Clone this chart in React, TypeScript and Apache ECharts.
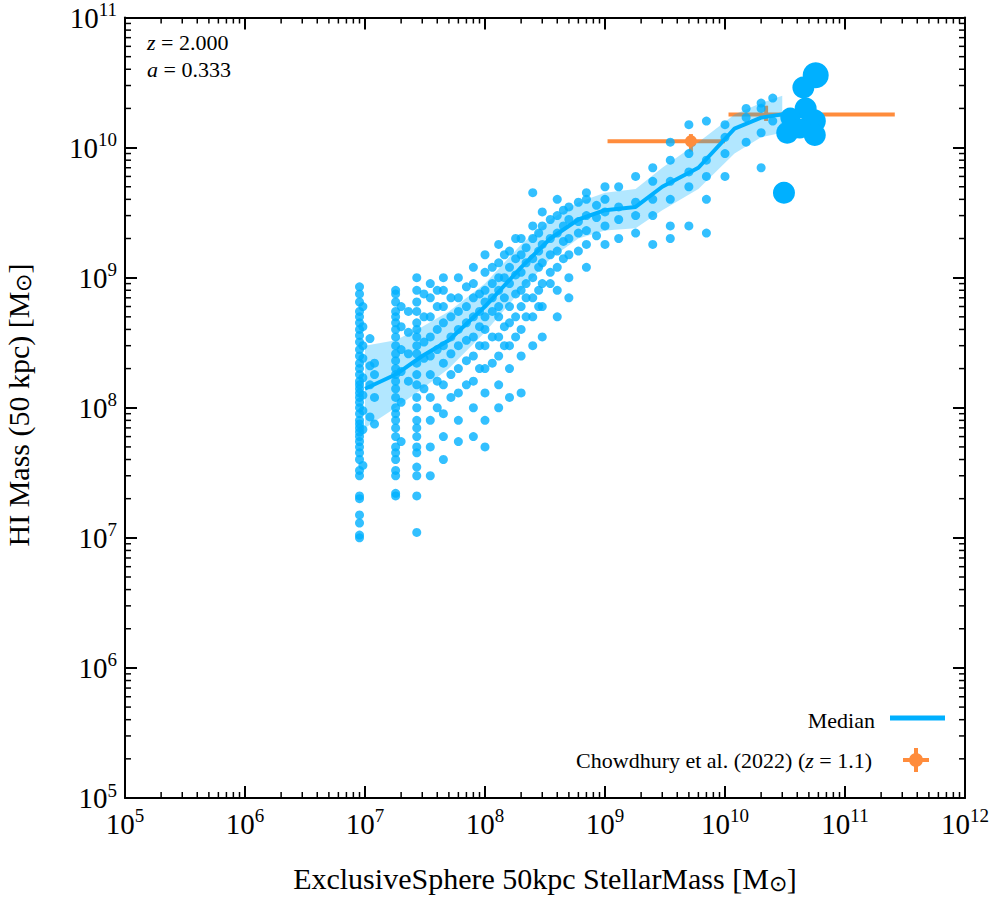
import React, { useEffect, useRef } from "react";
import * as echarts from "echarts";

const BLUE = "#00b0ff";
const ORANGE = "#ff8c3c";
const FONT = "Liberation Serif";

// scatter columns: [stellar mass, [HI masses]]
const scatterColumns: [number, number[]][] = [
  [9e6, [1.0e7, 1.05e7, 1.3e7, 1.5e7, 2e7, 2.1e7, 3e7, 3.3e7, 4e7, 4.5e7, 5e7, 5.5e7, 6e7, 6.5e7, 7e7, 7.5e7, 8e7, 9e7, 1e8, 1.1e8, 1.2e8, 1.3e8, 1.4e8, 1.5e8, 1.6e8, 1.8e8, 2e8, 2.2e8, 2.5e8, 2.8e8, 3.2e8, 3.6e8, 4e8, 4.5e8, 5e8, 5.5e8, 6.5e8, 7.5e8, 8.5e8]],
  [9.6e6, [3.6e7, 6.8e7, 9.5e7, 1.25e8, 1.7e8, 2.4e8, 3e8, 4.2e8, 6e8]],
  [1.1e7, [8.5e7, 1.5e8, 2.1e8, 3.4e8]],
  [1.2e7, [7.5e7, 1.2e8, 1.8e8, 2.2e8]],
  [1.8e7, [2.1e7, 2.2e7, 3e7, 3.3e7, 4e7, 4.5e7, 5e7, 6e7, 7e7, 8e7, 9e7, 1e8, 1.2e8, 1.4e8, 1.6e8, 1.8e8, 2e8, 2.3e8, 2.6e8, 3e8, 3.5e8, 4e8, 4.5e8, 5e8, 5.5e8, 6.5e8, 7.5e8, 8e8]],
  [2.0e7, [5.5e7, 1.1e8, 1.9e8, 2.8e8, 4.2e8, 6e8]],
  [2.3e7, [1.6e8, 2.6e8, 3.8e8, 5.5e8]],
  [2.7e7, [1.1e7, 2.1e7, 3e7, 3.5e7, 4.5e7, 5e7, 6e7, 7e7, 8e7, 1e8, 1.2e8, 1.5e8, 1.8e8, 2.2e8, 2.6e8, 3e8, 3.5e8, 4e8, 4.5e8, 5.5e8, 6.5e8, 8e8, 1e9]],
  [3.1e7, [1.4e8, 2.4e8, 3.2e8, 5e8, 7.5e8]],
  [3.5e7, [3e7, 5e7, 8e7, 1.2e8, 1.8e8, 2.5e8, 3.5e8, 5e8, 7e8, 9e8]],
  [4e7, [1e8, 1.6e8, 2.8e8, 4e8, 6e8, 8e8]],
  [4.5e7, [4e7, 6e7, 9e7, 1.5e8, 2.2e8, 3e8, 4.5e8, 6e8, 8e8, 1e9]],
  [5.2e7, [1.2e8, 1.8e8, 2.6e8, 3.5e8, 5e8, 7e8]],
  [6e7, [5.5e7, 8e7, 1.3e8, 2e8, 3e8, 4e8, 5.5e8, 7e8, 1e9]],
  [7e7, [1.5e8, 2.3e8, 3.3e8, 4.5e8, 6e8, 8.5e8]],
  [8e7, [6e7, 1e8, 1.6e8, 2.5e8, 3.5e8, 5e8, 7e8, 9e8, 1.2e9]],
  [9e7, [2e8, 3e8, 4.2e8, 5.5e8, 7.5e8]],
  [1e8, [5e7, 8e7, 1.3e8, 2e8, 3e8, 4e8, 5e8, 6.5e8, 8e8, 1.1e9, 1.5e9]],
  [1.15e8, [2.2e8, 3.5e8, 5.5e8, 7e8, 9e8, 1.2e9]],
  [1.3e8, [1e8, 1.5e8, 2.5e8, 3.5e8, 5e8, 6e8, 8e8, 1e9, 1.3e9, 1.8e9]],
  [1.45e8, [3e8, 4.2e8, 7e8, 1e9, 1.5e9]],
  [1.6e8, [1.2e8, 2e8, 3e8, 4.5e8, 6e8, 9e8, 1.2e9, 1.6e9]],
  [1.8e8, [3.5e8, 5e8, 7.5e8, 1.05e9, 1.4e9, 2e9]],
  [2e8, [1.3e8, 2.5e8, 4e8, 6e8, 8e8, 1.1e9, 1.5e9, 2e9]],
  [2.2e8, [5e8, 7e8, 9e8, 1.3e9, 1.7e9]],
  [2.5e8, [3e8, 5e8, 7e8, 1e9, 1.4e9, 2e9, 2.5e9, 4.5e9]],
  [2.8e8, [6e8, 8e8, 1.2e9, 1.6e9, 2.2e9]],
  [3e8, [3.5e8, 6e8, 9e8, 1.3e9, 1.8e9, 2.5e9, 3.2e9]],
  [3.5e8, [9e8, 1.1e9, 1.5e9, 2e9, 2.8e9]],
  [4e8, [5e8, 8e8, 1.2e9, 1.6e9, 2.2e9, 3e9, 4e9]],
  [4.5e8, [1.4e9, 1.9e9, 2.5e9, 3.3e9]],
  [5e8, [7e8, 1e9, 1.5e9, 2e9, 2.8e9, 3.5e9]],
  [6e8, [1.6e9, 2.2e9, 2.7e9, 3.8e9]],
  [7e8, [1.2e9, 1.8e9, 2.3e9, 3e9, 4e9, 4.5e9]],
  [8.5e8, [2.1e9, 2.9e9, 3.6e9]],
  [1e9, [1.8e9, 2.5e9, 3.2e9, 4e9, 5e9]],
  [1.3e9, [2e9, 2.8e9, 3.5e9, 5e9]],
  [1.8e9, [2.2e9, 3e9, 3.8e9, 6e9]],
  [2.5e9, [1.8e9, 3e9, 4e9, 5.5e9, 7e9]],
  [3.5e9, [2e9, 2.5e9, 4e9, 5.5e9, 8e9, 1.1e10]],
  [5e9, [2.5e9, 5e9, 6.5e9, 9e9, 1.5e10]],
  [7e9, [2.2e9, 4e9, 6e9, 8e9, 1.6e10]],
  [1e10, [6e9, 9e9, 1.2e10, 1.5e10]],
  [1.5e10, [1.1e10, 1.7e10, 2e10]],
  [2e10, [7e9, 1.3e10, 2e10, 2.2e10]],
  [2.5e10, [1.6e10, 2.4e10]],
];

// large galaxies: [x, y, size]
const bigPoints: [number, number, number][] = [
  [5.7e10, 3.6e10, 26], [4.5e10, 2.9e10, 22], [4.7e10, 2.0e10, 22], [3.5e10, 1.7e10, 20],
  [3.3e10, 1.3e10, 22], [5.5e10, 1.6e10, 24], [5.6e10, 1.25e10, 22], [3.1e10, 4.5e9, 22],
  [4.2e10, 1.4e10, 20],
];

const medianX = [1e7, 1.8e7, 3e7, 5e7, 1e8, 2e8, 3.5e8, 6e8, 1e9, 1.8e9, 3e9, 6e9, 1.2e10, 2e10, 3e10];
const medianY = [1.4e8, 1.8e8, 2.5e8, 3.3e8, 6e8, 1.2e9, 2.0e9, 2.8e9, 3.3e9, 3.5e9, 5e9, 7e9, 1.4e10, 1.7e10, 1.8e10];
const bandLow = [7e7, 1e8, 1.4e8, 2e8, 3.8e8, 8e8, 1.4e9, 2e9, 2.3e9, 2.4e9, 3.3e9, 4.8e9, 9e9, 1.2e10, 1.3e10];
const bandHigh = [3e8, 3.3e8, 4.2e8, 5.5e8, 9e8, 1.8e9, 2.8e9, 3.8e9, 4.5e9, 4.8e9, 7e9, 1.1e10, 1.8e10, 2.2e10, 2.5e10];

// Chowdhury et al. (2022): [x, y, xlo, xhi, ylo, yhi]
const obs: number[][] = [
  [5.2e9, 1.12e10, 1.05e9, 1.0e10, 9.3e9, 1.27e10],
  [2.2e10, 1.8e10, 1.07e10, 2.6e11, 1.6e10, 2.1e10],
];

const supFmt = (v: number) => `{b|10}{s|${Math.round(Math.log10(v))}}`;

export default function App() {
  const ref = useRef<HTMLDivElement>(null);
  useEffect(() => {
    const chart = echarts.init(ref.current!, null, { renderer: "svg" });
    const scatterData: number[][] = [];
    scatterColumns.forEach(([x, ys]) => ys.forEach((y) => scatterData.push([x, y])));
    const rich = {
      b: { fontSize: 29, fontFamily: FONT, color: "#000" },
      s: { fontSize: 19, fontFamily: FONT, color: "#000", padding: [0, 0, 16, 0] },
    };
    const axisCommon = {
      type: "log" as const, logBase: 10,
      axisLine: { show: true, lineStyle: { color: "#000", width: 2 } },
      axisTick: { show: true, inside: true, length: 12, lineStyle: { color: "#000", width: 2 } },
      splitLine: { show: false },
    };
    const it = { i: { fontStyle: "italic", fontFamily: FONT, fontSize: 22 } };
    chart.setOption({
      animation: false,
      grid: { left: 125, top: 15, width: 840, height: 783 },
      xAxis: [
        { ...axisCommon, min: 1e5, max: 1e12, position: "bottom",
          axisLabel: { formatter: supFmt, rich, margin: 8 } },
        { ...axisCommon, min: 1e5, max: 1e12, position: "top", axisLabel: { show: false } },
      ],
      yAxis: [
        { ...axisCommon, min: 1e5, max: 1e11, position: "left",
          axisLabel: { formatter: supFmt, rich, margin: 8 } },
        { ...axisCommon, min: 1e5, max: 1e11, position: "right", axisLabel: { show: false } },
      ],
      series: [
        {
          type: "custom", z: 1, silent: true, data: [[0]],
          renderItem: (_p: any, api: any) => {
            const ch: any[] = [];
            const style = { stroke: ORANGE, lineWidth: 4 };
            obs.forEach(([x, y, xl, xh, yl, yh]) => {
              const a = api.coord([xl, y]), b = api.coord([xh, y]);
              const c = api.coord([x, yl]), d = api.coord([x, yh]);
              ch.push({ type: "line", shape: { x1: a[0], y1: a[1], x2: b[0], y2: b[1] }, style });
              ch.push({ type: "line", shape: { x1: c[0], y1: c[1], x2: d[0], y2: d[1] }, style });
            });
            const p = api.coord([obs[0][0], obs[0][1]]);
            ch.push({ type: "circle", shape: { cx: p[0], cy: p[1], r: 6 }, style: { fill: ORANGE } });
            return { type: "group", children: ch };
          },
        },
        {
          type: "custom", z: 2, silent: true, data: [[0]],
          renderItem: (_p: any, api: any) => {
            const pts: number[][] = [];
            medianX.forEach((x, i) => pts.push(api.coord([x, bandHigh[i]])));
            for (let i = medianX.length - 1; i >= 0; i--) pts.push(api.coord([medianX[i], bandLow[i]]));
            return { type: "polygon", shape: { points: pts }, style: { fill: BLUE, opacity: 0.3 } };
          },
        },
        {
          type: "scatter", z: 3, symbolSize: 9, data: scatterData,
          itemStyle: { color: BLUE, opacity: 0.8 },
        },
        {
          type: "line", z: 4, symbol: "none", data: medianX.map((x, i) => [x, medianY[i]]),
          lineStyle: { color: BLUE, width: 4 },
        },
        {
          type: "scatter", z: 5, data: bigPoints.map((p) => [p[0], p[1], p[2]]),
          symbolSize: (v: number[]) => v[2], itemStyle: { color: BLUE, opacity: 1 },
        },
        {
          type: "custom", z: 10, silent: true, data: [[0]],
          renderItem: (_p: any, api: any) => {
            const ch: any[] = [];
            const st = { stroke: "#000", lineWidth: 1.5 };
            const bl = api.coord([1e5, 1e5]);
            const tr = api.coord([1e12, 1e11]);
            for (let e = 5; e < 12; e++) for (let m = 2; m <= 9; m++) {
              const x = api.coord([m * Math.pow(10, e), 1e5])[0];
              ch.push({ type: "line", shape: { x1: x, y1: bl[1], x2: x, y2: bl[1] - 6 }, style: st });
              ch.push({ type: "line", shape: { x1: x, y1: tr[1], x2: x, y2: tr[1] + 6 }, style: st });
            }
            for (let e = 5; e < 11; e++) for (let m = 2; m <= 9; m++) {
              const y = api.coord([1e5, m * Math.pow(10, e)])[1];
              ch.push({ type: "line", shape: { x1: bl[0], y1: y, x2: bl[0] + 6, y2: y }, style: st });
              ch.push({ type: "line", shape: { x1: tr[0], y1: y, x2: tr[0] - 6, y2: y }, style: st });
            }
            return { type: "group", children: ch };
          },
        },
      ],
      graphic: [
        { type: "text", left: 147, top: 31, style: { text: "{i|z} = 2.000", rich: it, fontFamily: FONT, fontSize: 22, fill: "#000" } },
        { type: "text", left: 147, top: 58, style: { text: "{i|a} = 0.333", rich: it, fontFamily: FONT, fontSize: 22, fill: "#000" } },
        { type: "text", x: 875, y: 720, style: { text: "Median", align: "right", verticalAlign: "middle", fontFamily: FONT, fontSize: 22, fill: "#000" } },
        { type: "line", shape: { x1: 890, y1: 718, x2: 945, y2: 718 }, style: { stroke: BLUE, lineWidth: 5 } },
        { type: "text", x: 872, y: 760, style: { text: "Chowdhury et al. (2022) ({i|z} = 1.1)", rich: it, align: "right", verticalAlign: "middle", fontFamily: FONT, fontSize: 22, fill: "#000" } },
        { type: "line", shape: { x1: 903, y1: 760, x2: 929, y2: 760 }, style: { stroke: ORANGE, lineWidth: 4 } },
        { type: "line", shape: { x1: 916, y1: 748, x2: 916, y2: 772 }, style: { stroke: ORANGE, lineWidth: 4 } },
        { type: "circle", shape: { cx: 916, cy: 760, r: 7 }, style: { fill: ORANGE } },
        { type: "text", x: 545, y: 878, style: { text: "ExclusiveSphere 50kpc StellarMass [M{sub|⊙}]", rich: { sub: { fontSize: 22, fontFamily: FONT, padding: [10, 0, 0, 0] } }, align: "center", verticalAlign: "middle", fontFamily: FONT, fontSize: 30, fill: "#000" } },
        { type: "text", x: 18, y: 405, rotation: Math.PI / 2, style: { text: "HI Mass (50 kpc) [M{sub|⊙}]", rich: { sub: { fontSize: 22, fontFamily: FONT, padding: [10, 0, 0, 0] } }, align: "center", verticalAlign: "middle", fontFamily: FONT, fontSize: 30, fill: "#000" } },
      ],
    });
    return () => chart.dispose();
  }, []);
  return <div ref={ref} style={{ position: "absolute", left: 0, top: 0, width: 996, height: 900 }} />;
}
